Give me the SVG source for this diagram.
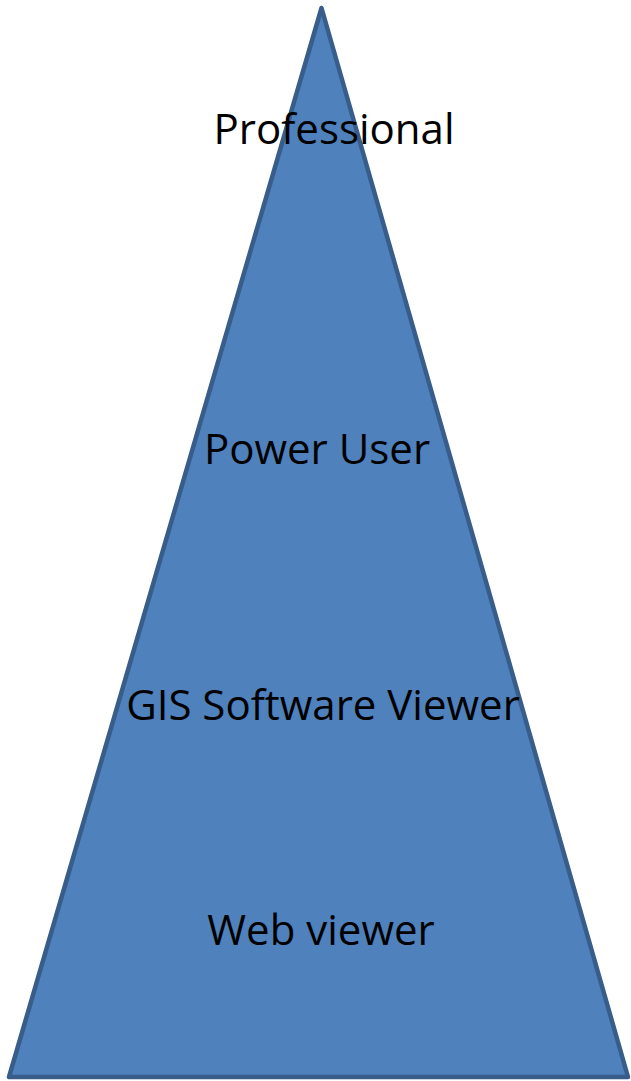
<svg xmlns="http://www.w3.org/2000/svg" width="631" height="1081" viewBox="0 0 631 1081">
<style>
.lbl{font-family:"Open Sans","Noto Sans","Liberation Sans",sans-serif;font-size:42px;fill:#000;text-anchor:middle}
</style>
<rect width="631" height="1081" fill="#fff"/>
<g id="pyramid">
<polygon points="321.5,8 9,1077 628,1077" fill="#4F81BD" stroke="#385D8A" stroke-width="4.5" stroke-linejoin="round"/>
</g>
<g id="professional"><text class="lbl" x="334" y="144">Professional</text></g>
<g id="power-user"><text class="lbl" x="317" y="464">Power User</text></g>
<g id="gis-viewer"><text class="lbl" x="323" y="720">GIS Software Viewer</text></g>
<g id="web-viewer"><text class="lbl" x="321" y="945">Web viewer</text></g>
</svg>
